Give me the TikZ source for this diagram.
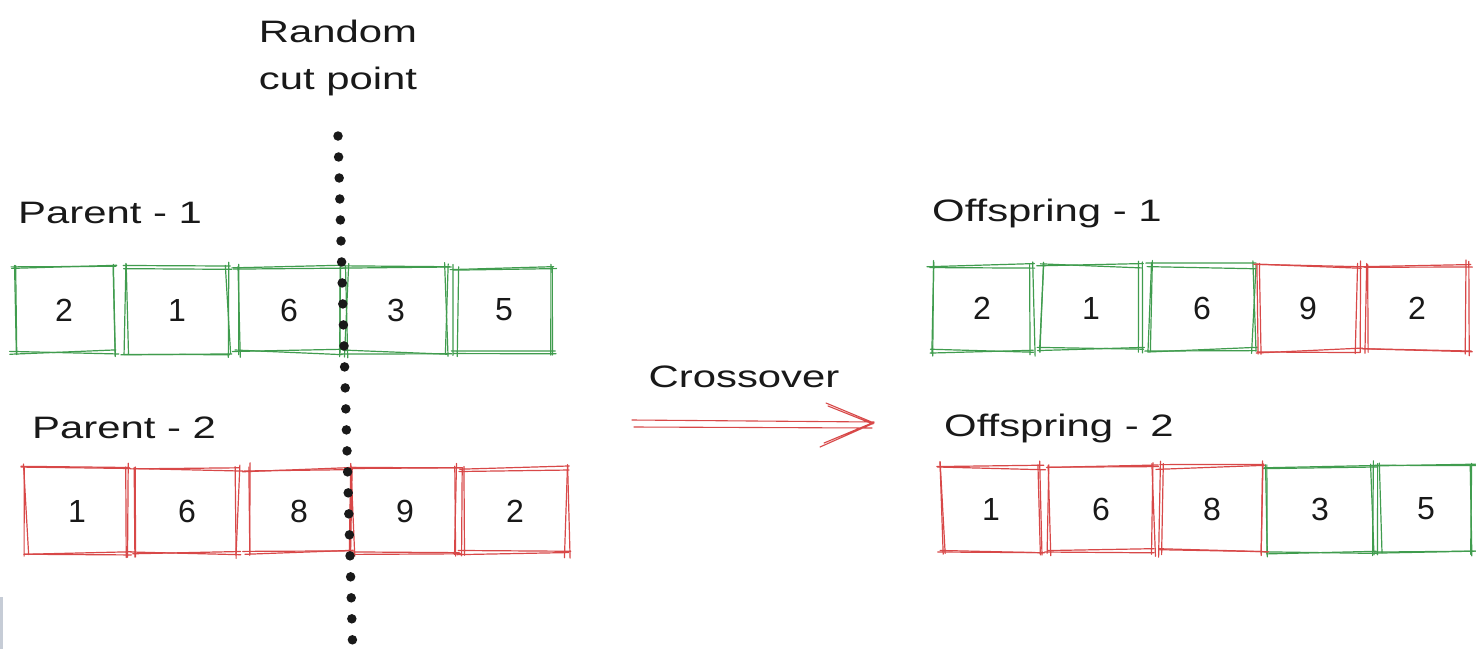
\documentclass[tikz,border=0pt]{standalone}
\usepackage{fontspec}
\usetikzlibrary{calc}
\newfontfamily\handfont[FakeStretch=1.35]{Liberation Sans}
\newfontfamily\cellfont{Liberation Sans}
\definecolor{inkgreen}{RGB}{64,156,78}
\definecolor{inkred}{RGB}{216,72,72}
\definecolor{ink}{RGB}{25,25,25}
\definecolor{edgegray}{RGB}{198,204,214}

% hand-drawn outline: every side twice, slightly jittered, overshooting the corners
\newcommand\sketchbox[2]{%
  \foreach \pass in {1,2}{%
    \draw[sketch,#2]
      ($(#1.north west)+({-1-5*rnd},{3*rand})$) -- ($(#1.north east)+({1+5*rnd},{3*rand})$)
      ($(#1.north east)+({3*rand},{-1-5*rnd})$) -- ($(#1.south east)+({3*rand},{1+5*rnd})$)
      ($(#1.south east)+({1+5*rnd},{3*rand})$) -- ($(#1.south west)+({-1-5*rnd},{3*rand})$)
      ($(#1.south west)+({3*rand},{1+5*rnd})$) -- ($(#1.north west)+({3*rand},{-1-5*rnd})$);
  }%
}

\tikzset{
  sketch/.style={line width=1.2pt, line cap=round},
  cell/.style={minimum height=84pt, inner sep=0pt, font=\cellfont\fontsize{32}{32}\selectfont, text=ink},
  tag/.style={anchor=west, inner sep=0pt, font=\handfont\fontsize{31}{36}\selectfont, text=ink},
}

\begin{document}
\begin{tikzpicture}[x=1pt,y=-1pt]
\pgfmathsetseed{11}
\useasboundingbox (0,0) rectangle (1476,649);
\fill[white] (0,0) rectangle (1476,649);
\fill[edgegray] (0,597) rectangle (3,649);

% cut marker
\node[font=\handfont\fontsize{31}{47}\selectfont, text=ink, align=center] (cutlabel) at (338,58) {Random\\cut point};
\coordinate (cuttop) at (338,136);
\coordinate (cutbot) at (353,660);

% parent 1
\node[tag] (p1) at (18,213) {Parent - 1};
\node[cell, minimum width=100pt] (p1a) at (64,310)  {2};
\node[cell, minimum width=102pt] (p1b) at (177,310) {1};
\node[cell, minimum width=102pt] (p1c) at (289,310) {6};
\node[cell, minimum width=100pt] (p1d) at (396,310) {3};
\node[cell, minimum width=96pt]  (p1e) at (504,310) {5};

% parent 2
\node[tag] (p2) at (32,428) {Parent - 2};
\node[cell, minimum width=101pt] (p2a) at (77,511)  {1};
\node[cell, minimum width=101pt] (p2b) at (187,511) {6};
\node[cell, minimum width=102pt] (p2c) at (299,511) {8};
\node[cell, minimum width=104pt] (p2d) at (405,511) {9};
\node[cell, minimum width=104pt] (p2e) at (515,511) {2};

% offspring 1
\node[tag] (o1) at (932,213) {Offspring - 1};
\node[cell, minimum width=100pt] (o1a) at (982,308)  {2};
\node[cell, minimum width=97pt]  (o1b) at (1091,308) {1};
\node[cell, minimum width=104pt] (o1c) at (1202,308) {6};
\node[cell, minimum width=99pt]  (o1d) at (1308,308) {9};
\node[cell, minimum width=100pt] (o1e) at (1417,308) {2};

% offspring 2
\node[tag] (o2) at (944,428) {Offspring - 2};
\node[cell, minimum width=97pt]  (o2a) at (991,509)  {1};
\node[cell, minimum width=103pt] (o2b) at (1101,509) {6};
\node[cell, minimum width=101pt] (o2c) at (1212,509) {8};
\node[cell, minimum width=104pt] (o2d) at (1320,509) {3};
\node[cell, minimum width=92pt]  (o2e) at (1426,509) {5};

\foreach \n in {p1a,p1b,p1c,p1d,p1e,o1a,o1b,o1c,o2d,o2e}{\sketchbox{\n}{inkgreen}}
\foreach \n in {p2a,p2b,p2c,p2d,p2e,o1d,o1e,o2a,o2b,o2c}{\sketchbox{\n}{inkred}}

\draw[ink, line width=9.5pt, line cap=round, dash pattern=on 0pt off 21pt] (cuttop) -- (cutbot);

% crossover arrow
\node[font=\handfont\fontsize{31}{36}\selectfont, text=ink] (xlabel) at (744,377) {Crossover};
\coordinate (xs) at (632,422);
\coordinate (xt) at (874,423);
\draw[sketch, inkred, line width=1.1pt]
  ($(xs)+(0,-2)$) -- ($(xt)+(0,-1)$)
  ($(xs)+(2,5)$) -- ($(xt)+(-2,5)$)
  (xt) -- ($(xt)+(-48,-20)$)
  ($(xt)+(-1,1)$) -- ($(xt)+(-46,-17)$)
  (xt) -- ($(xt)+(-54,24)$)
  ($(xt)+(-2,0)$) -- ($(xt)+(-50,20)$);
\end{tikzpicture}
\end{document}
